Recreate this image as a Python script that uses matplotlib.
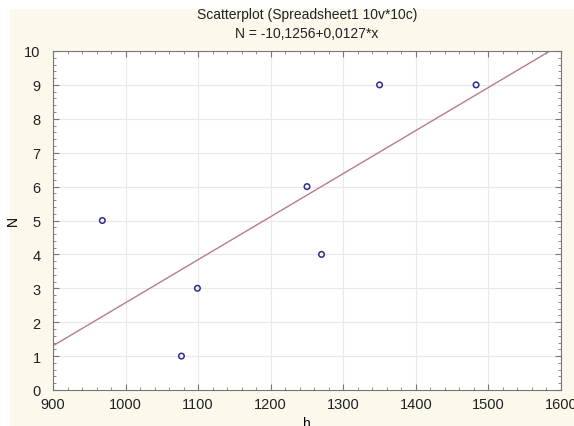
import numpy as np
import matplotlib.pyplot as plt
from matplotlib.patches import Rectangle
from matplotlib.ticker import MultipleLocator

plt.rcParams['font.family'] = ['Liberation Sans', 'DejaVu Sans']

# --- datos ---
h_vals = [968, 1077, 1099, 1250, 1270, 1350, 1483]
n_vals = [5, 1, 3, 6, 4, 9, 9]
intercept = -10.1256
slope = 0.0127
title_lines = ["Scatterplot (Spreadsheet1 10v*10c)", "N = -10,1256+0,0127*x"]

fig = plt.figure(figsize=(5.74, 4.27), dpi=100, facecolor='white')
# fondo crema de Statistica
fig.patches.append(Rectangle((10 / 574, 0), 1, 1 - 10 / 427, transform=fig.transFigure,
                             facecolor='#fcf8ec', edgecolor='none', zorder=-10))

ax = fig.add_axes([53 / 574, 1 - 391 / 427, (561 - 53) / 574, (391 - 52) / 427])
ax.set_facecolor('white')

xx = np.array([900, 1600])
ax.plot(xx, intercept + slope * xx, color='#b87c88', lw=1.0, zorder=2)
ax.scatter(h_vals, n_vals, s=16, facecolors='none', edgecolors='#2b2f8a', linewidths=1.1, zorder=3)

ax.set_xlim(900, 1600)
ax.set_ylim(0, 10)
ax.xaxis.set_major_locator(MultipleLocator(100))
ax.xaxis.set_minor_locator(MultipleLocator(20))
ax.yaxis.set_major_locator(MultipleLocator(1))
ax.yaxis.set_minor_locator(MultipleLocator(0.2))
ax.grid(True, which='major', color='#e8e8ee', lw=0.8)
ax.tick_params(which='both', direction='in', top=True, right=True, colors='#777777',
               labelcolor='#222222', labelsize=10.5)
ax.tick_params(which='major', length=4)
ax.tick_params(axis='x', which='major', pad=5)
ax.tick_params(axis='y', which='major', pad=9)
ax.tick_params(which='minor', length=2)
for s in ax.spines.values():
    s.set_color('#777777')
    s.set_linewidth(0.8)

ax.set_xlabel('h', fontsize=10, labelpad=4)
ax.set_ylabel('N', fontsize=10, labelpad=3)
ax.set_title("\n".join(title_lines), fontsize=10, color='#222222', pad=10, linespacing=1.5)

plt.savefig('out.png', dpi=100, facecolor=fig.get_facecolor())
